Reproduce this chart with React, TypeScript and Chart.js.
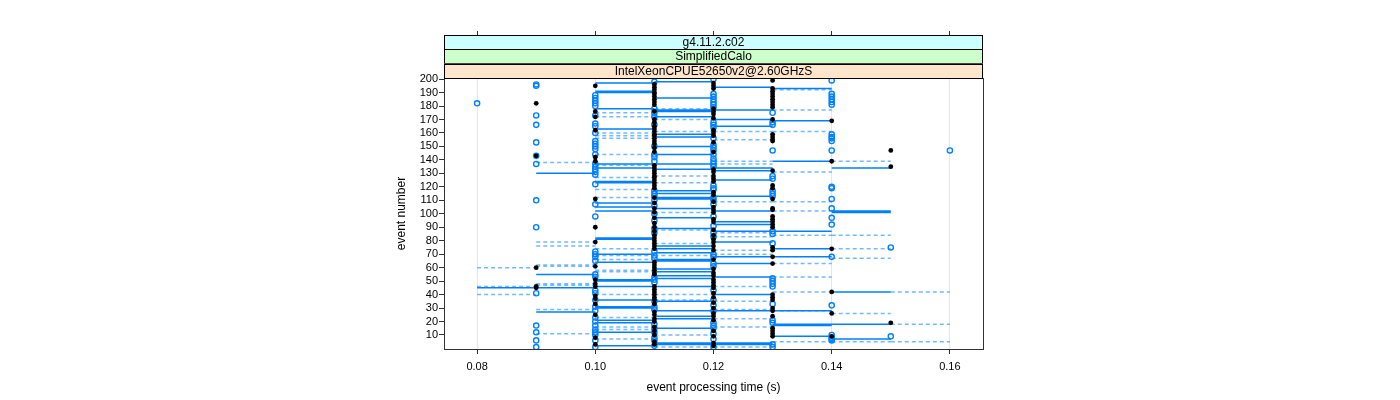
import React, { useEffect, useRef } from "react";
import { Chart, registerables } from "chart.js";

Chart.register(...registerables);

// ---------- data ----------
const xTickValues = [0.08, 0.1, 0.12, 0.14, 0.16];
const yTickValues = [10, 20, 30, 40, 50, 60, 70, 80, 90, 100, 110, 120, 130, 140, 150, 160, 170, 180, 190, 200];
const stripLabels = ["g4.11.2.c02", "SimplifiedCalo", "IntelXeonCPUE52650v2@2.60GHzS"];

// event numbers of measurements, grouped by processing time (s)
const columnTimes = [0.08, 0.09, 0.1, 0.11, 0.12, 0.13, 0.14, 0.15, 0.16];

const blackAt008: number[] = [];
const blackAt009 = [182, 143, 60, 46, 45];
const blackAt010 = [195, 176, 172, 162, 142, 139, 111, 90, 79, 61, 51, 48, 46, 39, 37, 33, 25, 8, 3];
const blackAt011 = [196, 194, 192, 190, 189, 187, 185, 183, 181, 176, 170, 168, 165, 163, 161, 159, 158, 156, 154, 152, 149, 146, 136, 134, 132, 130, 128, 127, 125, 123, 121, 119, 112, 108, 104, 101, 97, 93, 90, 87, 84, 82, 80, 78, 76, 74, 64, 62, 60, 58, 56, 55, 46, 44, 42, 40, 38, 36, 33, 27, 25, 22, 20, 16, 13, 10, 5, 3];
const blackAt012 = [197, 195, 193, 178, 176, 174, 171, 162, 160, 158, 153, 146, 133, 131, 128, 126, 124, 116, 114, 109, 105, 103, 101, 96, 94, 88, 84, 81, 79, 76, 73, 66, 59, 56, 54, 51, 49, 47, 45, 41, 38, 34, 30, 26, 24, 21, 13, 9, 4, 2];
const blackAt013 = [199, 193, 191, 189, 187, 185, 183, 181, 179, 170, 159, 157, 155, 154, 132, 121, 119, 111, 104, 103, 98, 96, 94, 92, 90, 75, 73, 68, 63, 40, 38, 36, 30, 28, 24, 15, 13, 11, 9];
const blackAt014 = [169, 139, 74, 42, 26, 9];
const blackAt015 = [147, 135, 19];
const blackAt016: number[] = [];

const blueAt008 = [182];
const blueAt009 = [196, 195, 173, 166, 153, 143, 137, 110, 90, 41, 17, 12, 6, 1];
const blueAt010 = [188, 186, 184, 182, 180, 173, 167, 165, 160, 154, 152, 150, 148, 144, 137, 135, 133, 131, 129, 122, 107, 98, 72, 70, 68, 65, 55, 53, 43, 41, 36, 31, 28, 23, 20, 17, 14, 12, 10, 6, 1];
const blueAt011 = [198, 178, 175, 172, 166, 150, 144, 142, 139, 117, 115, 113, 110, 106, 100, 95, 89, 86, 72, 69, 67, 53, 51, 49, 35, 31, 29, 18, 15, 12, 8, 6, 2];
const blueAt012 = [200, 189, 187, 185, 183, 181, 179, 168, 166, 164, 156, 151, 149, 147, 144, 141, 139, 137, 135, 121, 119, 118, 112, 110, 107, 98, 91, 86, 83, 70, 68, 63, 61, 43, 36, 32, 28, 19, 17, 15, 11, 7, 1];
const blueAt013 = [175, 168, 166, 147, 128, 126, 117, 115, 113, 87, 85, 78, 52, 50, 48, 46, 33, 21, 19, 3, 1];
const blueAt014 = [199, 189, 187, 185, 183, 181, 159, 157, 156, 154, 147, 120, 119, 111, 104, 97, 92, 68, 32, 10, 8, 7, 6];
const blueAt015 = [75, 9];
const blueAt016 = [147];

// horizontal segments (event numbers) between two processing times
const solid008to009 = [45];
const solid009to010 = [130, 55, 45, 27];
const solid010to011 = [197, 191, 190, 178, 163, 137, 134, 124, 123, 108, 105, 102, 82, 81, 70, 64, 51, 50, 46, 36, 31, 30, 21, 19, 12, 2];
const solid011to012 = [198, 186, 177, 176, 172, 159, 157, 150, 144, 137, 133, 117, 115, 112, 111, 104, 97, 89, 76, 74, 71, 66, 65, 59, 57, 54, 52, 46, 35, 28, 24, 22, 15, 4, 3];
const solid012to013 = [194, 177, 170, 165, 134, 132, 125, 113, 102, 94, 92, 87, 79, 68, 63, 53, 40, 28, 4, 3];
const solid013to014 = [193, 169, 139, 87, 74, 68, 28, 18, 17, 9];
const solid014to015 = [134, 102, 101, 42, 18, 7];

const dashed008to009 = [60, 46, 40];
const dashed009to010 = [138, 79, 76, 62, 61, 48, 47, 29, 11];
const dashed010to011 = [175, 172, 160, 158, 156, 144, 136, 127, 118, 112, 74, 69, 66, 58, 57, 40, 23, 16, 14, 7];
const dashed011to012 = [178, 170, 161, 128, 123, 101, 88, 78, 69, 40, 36, 10, 1];
const dashed012to013 = [161, 155, 139, 137, 109, 86, 83, 73, 70, 46, 35, 29, 22, 16, 1];
const dashed013to014 = [192, 177, 161, 131, 109, 102, 84, 63, 53, 42, 28, 5];
const dashed014to015 = [139, 84, 74, 67, 26, 5];
const dashed015to016 = [42, 18, 5];

// ---------- build ----------
const blackCols = [blackAt008, blackAt009, blackAt010, blackAt011, blackAt012, blackAt013, blackAt014, blackAt015, blackAt016];
const blueCols = [blueAt008, blueAt009, blueAt010, blueAt011, blueAt012, blueAt013, blueAt014, blueAt015, blueAt016];

const toPoints = (cols: number[][]) =>
  cols.flatMap((evs, i) => evs.map((e) => ({ x: columnTimes[i], y: e })));

const toSegments = (spans: number[][]) => {
  const out: { x: number; y: number | null }[] = [];
  spans.forEach((evs, i) => {
    const a = columnTimes[i];
    const b = columnTimes[i + 1];
    evs.forEach((e) => {
      out.push({ x: a, y: e }, { x: b, y: e }, { x: b, y: null });
    });
  });
  return out;
};

const solidSpans = [solid008to009, solid009to010, solid010to011, solid011to012, solid012to013, solid013to014, solid014to015, []];
const dashedSpans = [dashed008to009, dashed009to010, dashed010to011, dashed011to012, dashed012to013, dashed013to014, dashed014to015, dashed015to016];

const FONT = "'Liberation Sans', Arial, Helvetica, sans-serif";
const stripColors = ["#ccffff", "#ccffcc", "#ffe5cc"];

const stripPlugin = {
  id: "strips",
  afterDraw(chart: any) {
    const { ctx, chartArea } = chart;
    const { left, right, top } = chartArea;
    const h = 14.3;
    ctx.save();
    stripLabels.forEach((label, i) => {
      const y0 = top - (stripLabels.length - i) * h;
      ctx.fillStyle = stripColors[i];
      ctx.fillRect(left, y0, right - left, h);
      ctx.strokeStyle = "#000";
      ctx.lineWidth = 1;
      ctx.strokeRect(Math.round(left) + 0.5, Math.round(y0) + 0.5, Math.round(right - left) - 1, Math.round(h));
      ctx.fillStyle = "#000";
      ctx.font = `12px ${FONT}`;
      ctx.textAlign = "center";
      ctx.textBaseline = "middle";
      ctx.fillText(label, (left + right) / 2, y0 + h / 2 + 0.5);
    });
    ctx.restore();
  },
};

const X_MIN = 0.0744;
const X_MAX = 0.1656;
const Y_MIN = -0.4;
const Y_MAX = 200.8;

export default function App() {
  const ref = useRef<HTMLCanvasElement | null>(null);

  useEffect(() => {
    if (!ref.current) return;
    const setXTicks = (s: any) => {
      s.ticks = xTickValues.map((v) => ({ value: v }));
    };
    const setYTicks = (s: any) => {
      s.ticks = yTickValues.map((v) => ({ value: v }));
    };
    const chart = new Chart(ref.current, {
      type: "scatter",
      data: {
        datasets: [
          {
            type: "scatter",
            label: "black",
            data: toPoints(blackCols),
            pointRadius: 2.4,
            pointBackgroundColor: "#000",
            pointBorderColor: "#000",
            pointBorderWidth: 0,
            showLine: false,
            xAxisID: "x",
            yAxisID: "y",
          } as any,
          {
            type: "scatter",
            label: "blue",
            data: toPoints(blueCols),
            pointRadius: 2.6,
            pointBackgroundColor: "rgba(0,0,0,0)",
            pointBorderColor: "#0080ff",
            pointBorderWidth: 1.4,
            showLine: false,
            xAxisID: "x",
            yAxisID: "y",
          } as any,
          {
            type: "line",
            label: "solid",
            data: toSegments(solidSpans),
            borderColor: "#0080ff",
            borderWidth: 1.5,
            pointRadius: 0,
            spanGaps: false,
            tension: 0,
            fill: false,
            xAxisID: "x",
            yAxisID: "y",
          } as any,
          {
            type: "line",
            label: "dashed",
            data: toSegments(dashedSpans),
            borderColor: "rgba(0,128,255,0.55)",
            borderWidth: 1.5,
            borderDash: [4, 3],
            pointRadius: 0,
            spanGaps: false,
            tension: 0,
            fill: false,
            xAxisID: "x",
            yAxisID: "y",
          } as any,
        ],
      },
      options: {
        responsive: false,
        animation: false,
        devicePixelRatio: 1,
        layout: { padding: { left: 390, right: 417, top: 31, bottom: 0 } },
        plugins: { legend: { display: false }, tooltip: { enabled: false } },
        scales: {
          x: {
            type: "linear",
            position: "bottom",
            min: X_MIN,
            max: X_MAX,
            afterBuildTicks: setXTicks,
            afterFit: (s: any) => {
              s.height = 51;
            },
            ticks: {
              autoSkip: false,
              maxRotation: 0,
              padding: 6,
              color: "#000",
              font: { family: FONT, size: 11 },
              callback: (v: any) => Number(v).toFixed(2),
            },
            grid: { color: "#e6e6e6", lineWidth: 1, tickColor: "#333", tickLength: 5 },
            border: { display: true, color: "#333", width: 1 },
            title: {
              display: true,
              text: "event processing time (s)",
              color: "#000",
              font: { family: FONT, size: 12 },
              padding: { top: 0, bottom: 5 },
            },
          },
          x2: {
            type: "linear",
            position: "top",
            min: X_MIN,
            max: X_MAX,
            afterBuildTicks: setXTicks,
            afterFit: (s: any) => {
              s.height = 47;
            },
            ticks: { display: false },
            grid: { drawOnChartArea: false, tickColor: "#333", tickLength: 47 },
            border: { display: true, color: "#333", width: 1 },
          },
          y: {
            type: "linear",
            position: "left",
            min: Y_MIN,
            max: Y_MAX,
            afterBuildTicks: setYTicks,
            afterFit: (s: any) => {
              s.width = 54;
            },
            ticks: {
              autoSkip: false,
              padding: 1,
              color: "#000",
              font: { family: FONT, size: 11 },
              callback: (v: any) => String(v),
            },
            grid: { drawOnChartArea: false, tickColor: "#333", tickLength: 5 },
            border: { display: true, color: "#333", width: 1 },
            title: {
              display: true,
              text: "event number",
              color: "#000",
              font: { family: FONT, size: 12 },
              padding: { top: 4, bottom: 0 },
            },
          },
          y2: {
            type: "linear",
            position: "right",
            min: Y_MIN,
            max: Y_MAX,
            afterBuildTicks: setYTicks,
            afterFit: (s: any) => {
              s.width = 0;
            },
            ticks: { display: false },
            grid: { drawOnChartArea: false, drawTicks: false },
            border: { display: true, color: "#333", width: 1 },
          },
        },
      } as any,
      plugins: [stripPlugin],
    });
    return () => chart.destroy();
  }, []);

  return (
    <div style={{ position: "absolute", left: 0, top: 0, width: 1400, height: 400, background: "#fff" }}>
      <canvas ref={ref} width={1400} height={400} style={{ width: 1400, height: 400, display: "block" }} />
    </div>
  );
}
